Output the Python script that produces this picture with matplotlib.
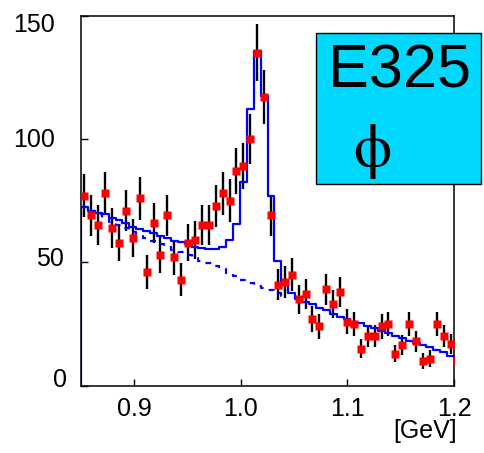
import matplotlib
matplotlib.use('Agg')
import matplotlib.pyplot as plt
from matplotlib.patches import Rectangle
import numpy as np

plt.rcParams['font.family'] = ['Liberation Sans', 'DejaVu Sans']

# K+K- invariant mass, 0.85 - 1.2 GeV in 54 bins (+1 point just past the edge)
x_lo, x_hi, n_bins = 0.85, 1.2, 54

counts = [77, 69, 65, 78, 64, 58, 71, 60, 76, 46,
          66, 53, 69, 52, 43, 58, 59, 65, 65, 73,
          78, 75, 87, 89, 100, 135, 117, 69, 41, 42,
          45, 35, 37, 27, 24, 39, 33, 38, 26, 25,
          15, 20, 20, 24, 25, 13, 16.5, 25, 18, 10,
          11, 25, 20, 17, 10]
errors = [8.8, 8.3, 8.1, 8.8, 8.0, 7.6, 8.4, 7.7, 8.7, 6.8,
          8.1, 7.3, 8.3, 7.2, 6.6, 7.6, 7.7, 8.1, 8.1, 8.5,
          8.8, 8.7, 9.3, 9.4, 10.0, 11.6, 10.8, 8.3, 6.4, 6.5,
          6.7, 5.9, 6.1, 5.2, 4.9, 6.2, 5.7, 6.2, 5.1, 5.0,
          3.9, 4.5, 4.5, 4.9, 5.0, 3.6, 4.1, 5.0, 4.2, 3.2,
          3.3, 5.0, 4.5, 4.1, 3.2]

# fit: signal + background (solid)
fit_total = [72.5, 71, 70, 69.5, 67.8, 67, 65.8, 64.3, 63.4, 62.8,
             61.9, 60.6, 59.7, 58.6, 58.4, 57.4, 56.1, 55.8, 55.3, 55.3,
             56.4, 59.2, 65.5, 82.5, 112.3, 135.8, 117.3, 76.8, 50.5, 41.2,
             37.5, 35, 34, 33, 31.5, 30.5, 29, 28, 27, 26,
             25.3, 24.2, 23.3, 22.3, 21.3, 20.2, 19.5, 18.3, 17.5, 16.3,
             15.5, 14.3, 13.5, 12]
# background only (dashed)
fit_bg = [72.5, 71, 69.5, 68, 66.5, 65, 64, 62.5, 61, 59.7,
          58.5, 57.5, 56.3, 55.2, 54, 53, 51.8, 50.7, 49.6, 48.5,
          47.2, 45.5, 44.3, 43, 41.6, 40.5, 39.5, 38.7, 37.6, 36.5]

x_ticks = [0.9, 1.0, 1.1, 1.2]
x_labels = ['0.9', '1.0', '1.1', '1.2']
y_ticks = [0, 50, 100, 150]
y_labels = ['0', '50', '100', '150']

w = (x_hi - x_lo) / n_bins
edges = x_lo + w * np.arange(len(counts) + 1)
centres = edges[:-1] + w / 2

W, H = 484, 453
fig = plt.figure(figsize=(W / 100, H / 100), dpi=100)
ax = fig.add_axes([0.1674, 0.1486, 0.7707, 0.8168])

xs = np.r_[edges[0], edges[:n_bins + 1]]
ys = np.r_[0, fit_total, fit_total[-1]]
ax.plot(xs, ys, drawstyle='steps-post', color='#0000ff', lw=1.6, zorder=2.5)

xb = edges[:len(fit_bg) + 1]
yb = np.r_[fit_bg, fit_bg[-1]]
ax.plot(xb, yb, drawstyle='steps-post', color='#0000ff', lw=1.6,
        linestyle=(0, (2.6, 3.2)), zorder=2.5)

ax.errorbar(centres, counts, yerr=errors, fmt='none', ecolor='black',
            elinewidth=1.7, capsize=0, zorder=2)
ax.plot(centres, counts, 's', color='#ff0000', ms=6, mec='none', zorder=3)

ax.set_xlim(x_lo, x_hi)
ax.set_ylim(0, 150)
ax.set_xticks(x_ticks)
ax.set_xticklabels(x_labels)
ax.set_yticks(y_ticks)
ax.tick_params(direction='in', length=5, width=1, labelsize=18)
ax.tick_params(axis='x', pad=8)
ax.tick_params(axis='y', labelleft=False)
for s in ax.spines.values():
    s.set_linewidth(1.1)

# y labels sit a little irregularly in the original, place them by hand (pixels)
ylab_pos = [(67, 387), (64, 265.5), (55, 147), (55, 31.5)]
for lab, (px, py) in zip(y_labels, ylab_pos):
    fig.text(px / W, 1 - py / H, lab, ha='right', va='baseline', fontsize=18)

fig.text(457 / W, 1 - 438 / H, '[GeV]', ha='right', va='baseline', fontsize=18)

# E325 label box
fig.add_artist(Rectangle((316 / W, 1 - 184 / H), 165 / W, 151 / H, transform=fig.transFigure,
                         facecolor='#00d8ff', edgecolor='black', lw=1, zorder=5))
fig.text(328 / W, 1 - 88 / H, 'E325', fontsize=44, ha='left', va='baseline', zorder=6)
fig.text(372 / W, 1 - 166 / H, 'ϕ', fontsize=44, ha='center', va='baseline',
         family=['STIXGeneral', 'DejaVu Serif'], zorder=6)

fig.savefig('out.png', dpi=100)
